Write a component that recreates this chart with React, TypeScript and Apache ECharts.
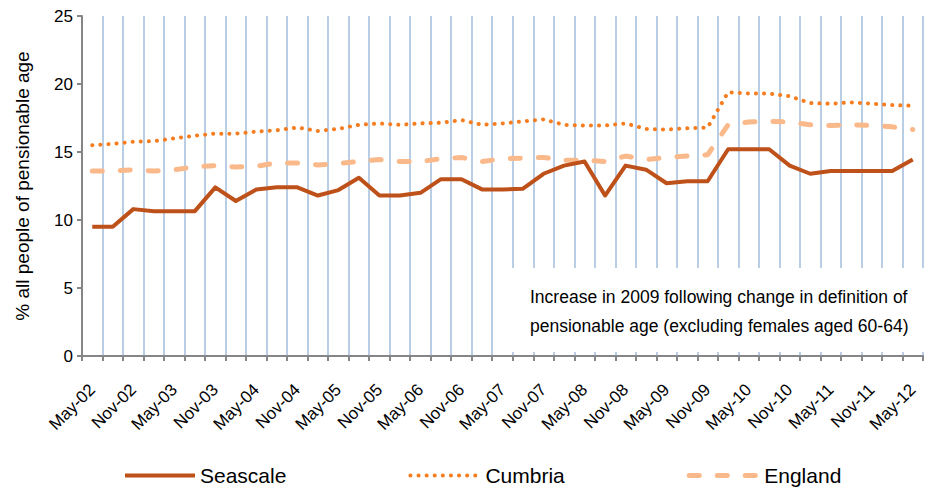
import React, { useEffect, useRef } from "react";
import * as echarts from "echarts";

const categories = [
  "May-02", "Aug-02", "Nov-02", "Feb-03", "May-03", "Aug-03", "Nov-03", "Feb-04",
  "May-04", "Aug-04", "Nov-04", "Feb-05", "May-05", "Aug-05", "Nov-05", "Feb-06",
  "May-06", "Aug-06", "Nov-06", "Feb-07", "May-07", "Aug-07", "Nov-07", "Feb-08",
  "May-08", "Aug-08", "Nov-08", "Feb-09", "May-09", "Aug-09", "Nov-09", "Feb-10",
  "May-10", "Aug-10", "Nov-10", "Feb-11", "May-11", "Aug-11", "Nov-11", "Feb-12",
  "May-12",
];

const seascale = [
  9.5, 9.5, 10.8, 10.65, 10.65, 10.65, 12.4, 11.4, 12.25, 12.4, 12.4, 11.8, 12.2, 13.1,
  11.8, 11.8, 12.0, 13.0, 13.0, 12.25, 12.25, 12.3, 13.4, 14.0, 14.3, 11.8, 14.0, 13.7,
  12.7, 12.85, 12.85, 15.2, 15.2, 15.2, 14.0, 13.4, 13.6, 13.6, 13.6, 13.6, 14.45,
];

const cumbria = [
  15.5, 15.6, 15.75, 15.8, 16.0, 16.2, 16.35, 16.35, 16.5, 16.6, 16.8, 16.55, 16.7, 17.0,
  17.1, 17.0, 17.1, 17.15, 17.35, 17.0, 17.1, 17.25, 17.4, 17.0, 16.95, 16.95, 17.1, 16.7,
  16.65, 16.75, 16.8, 19.4, 19.3, 19.3, 19.1, 18.6, 18.55, 18.65, 18.55, 18.45, 18.4,
];

const england = [
  13.6, 13.6, 13.7, 13.6, 13.7, 13.9, 14.0, 13.9, 13.95, 14.2, 14.2, 14.05, 14.15, 14.3,
  14.45, 14.3, 14.3, 14.5, 14.6, 14.3, 14.5, 14.55, 14.6, 14.4, 14.4, 14.3, 14.7, 14.45,
  14.6, 14.7, 14.8, 17.0, 17.2, 17.25, 17.2, 17.0, 16.95, 17.0, 16.95, 16.85, 16.65,
];

const seriesNames = ["Seascale", "Cumbria", "England"];
const yAxisName = "% all people of pensionable age";
const noteLines = [
  "Increase in 2009 following change in definition of",
  "pensionable age (excluding females aged 60-64)",
];

const FONT = "'Liberation Sans', Arial, sans-serif";

export default function App() {
  const ref = useRef<HTMLDivElement>(null);

  useEffect(() => {
    document.body.style.margin = "0";
    const chart = echarts.init(ref.current as HTMLDivElement, null, { renderer: "svg" });
    chart.setOption({
      animation: false,
      backgroundColor: "#ffffff",
      textStyle: { fontFamily: FONT, color: "#000" },
      grid: { left: 82, right: 2, top: 16, bottom: 132 },
      xAxis: {
        type: "category",
        data: categories,
        boundaryGap: true,
        axisLine: { show: true, lineStyle: { color: "#868686", width: 2 } },
        axisTick: { show: true, interval: 0, length: 5, lineStyle: { color: "#868686", width: 2 } },
        axisLabel: {
          interval: 1,
          rotate: 45,
          fontSize: 17,
          color: "#000",
          margin: 31,
          fontFamily: FONT,
        },
        splitLine: { show: true, interval: 0, lineStyle: { color: "#B9CDE5", width: 2 } },
      },
      yAxis: {
        type: "value",
        min: 0,
        max: 25,
        interval: 5,
        name: yAxisName,
        nameLocation: "middle",
        nameGap: 50,
        nameTextStyle: { fontSize: 19, color: "#000", fontFamily: FONT },
        axisLine: { show: true, lineStyle: { color: "#868686", width: 2 } },
        axisTick: { show: true, length: 5, lineStyle: { color: "#868686", width: 2 } },
        axisLabel: { fontSize: 17, color: "#000", margin: 9, fontFamily: FONT },
        splitLine: { show: false },
      },
      legend: {
        data: [
          { name: seriesNames[0], lineStyle: { width: 4 } },
          { name: seriesNames[1], lineStyle: { width: 4 } },
          { name: seriesNames[2], lineStyle: { width: 5 } },
        ],
        left: 118,
        top: 460,
        itemWidth: 70,
        itemHeight: 14,
        itemGap: 122,
        itemStyle: { opacity: 0 },
        textStyle: { fontSize: 21, color: "#000", fontFamily: FONT },
      },
      series: [
        {
          name: seriesNames[0],
          type: "line",
          data: seascale,
          symbol: "none",
          color: "#BE5019",
          lineStyle: { color: "#BE5019", width: 4, join: "round" },
          z: 5,
        },
        {
          name: seriesNames[1],
          type: "line",
          data: cumbria,
          symbol: "none",
          color: "#F57D1F",
          lineStyle: { color: "#F57D1F", width: 4, type: [0.1, 8], cap: "round" },
          z: 4,
        },
        {
          name: seriesNames[2],
          type: "line",
          data: england,
          symbol: "none",
          color: "#F9B98B",
          lineStyle: { color: "#F9B98B", width: 5, type: [10, 18], cap: "round" },
          z: 3,
        },
      ],
      graphic: [
        {
          type: "rect",
          z: 100,
          shape: { x: 500, y: 268, width: 425, height: 84 },
          style: { fill: "#ffffff" },
        },
        {
          type: "text",
          z: 101,
          x: 530,
          y: 282,
          style: {
            text: noteLines.join("\n"),
            fontSize: 17.5,
            lineHeight: 29,
            fill: "#000",
            fontFamily: FONT,
          },
        },
      ],
    });
    return () => chart.dispose();
  }, []);

  return <div ref={ref} style={{ width: 925, height: 488 }} />;
}
